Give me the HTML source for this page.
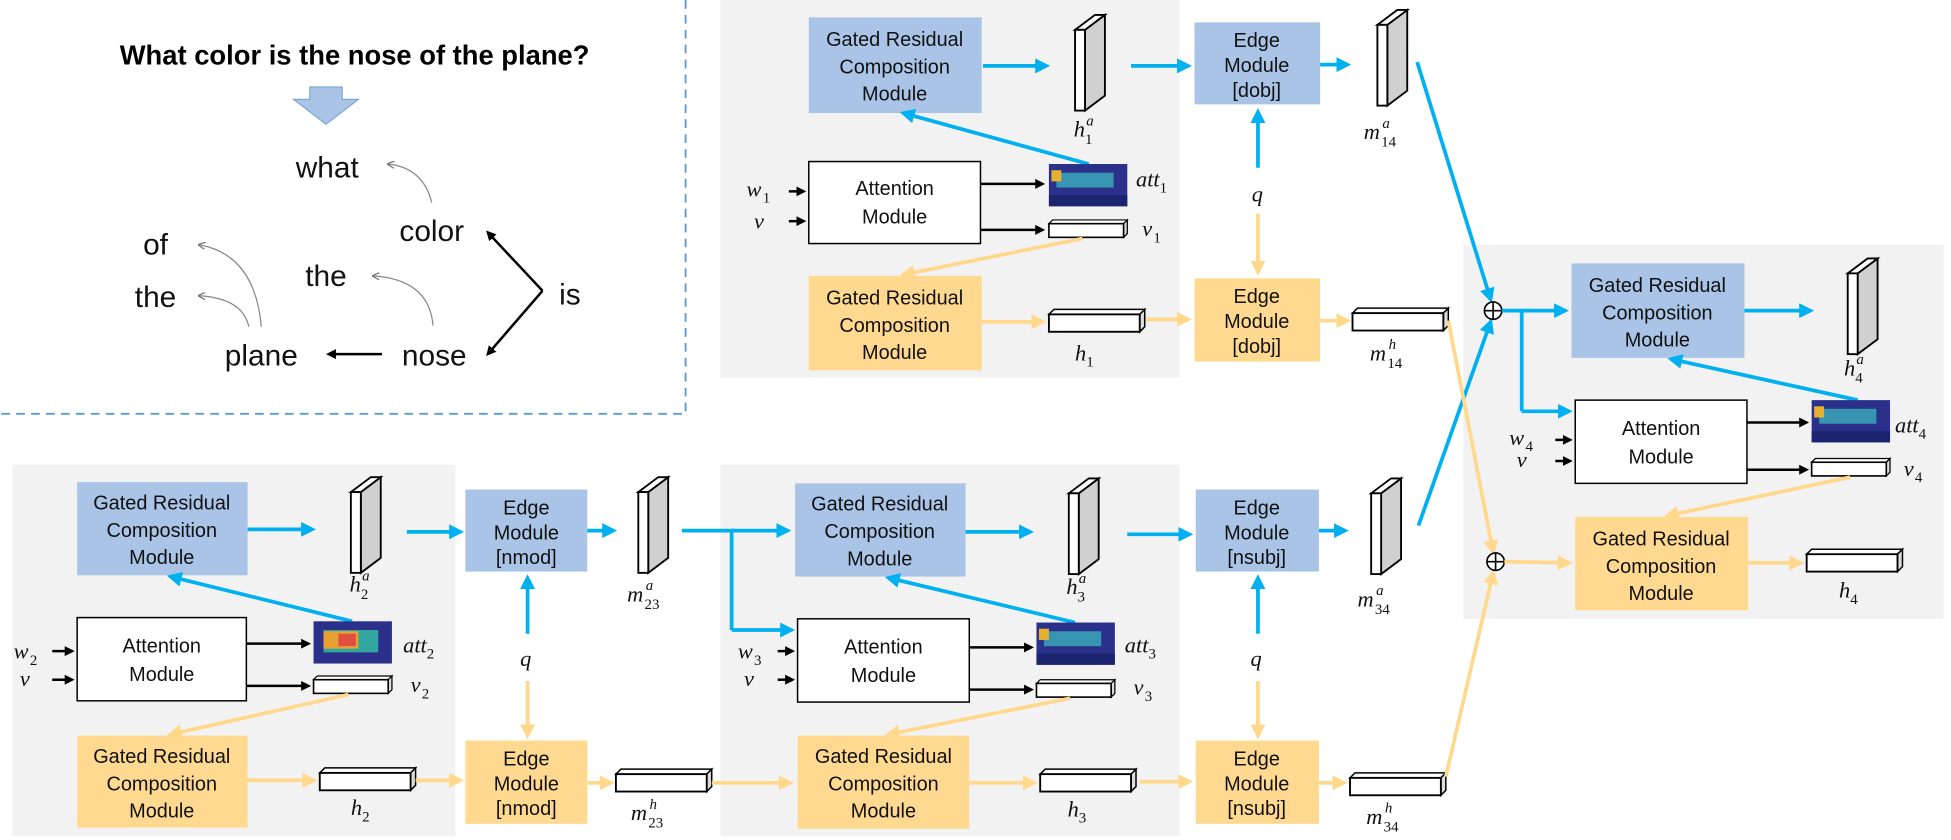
<!DOCTYPE html>
<html><head><meta charset="utf-8"><style>
html,body{margin:0;padding:0;background:#fff;width:1951px;height:840px;overflow:hidden}
svg{display:block}
.b{fill:#a9c4e6}.o{fill:#ffd990}
.t{font-family:"Liberation Sans",sans-serif;font-size:16px;fill:#111;text-anchor:middle}
.m{font-family:"Liberation Serif",serif;font-style:italic;font-size:18px;fill:#111}
.s{font-family:"Liberation Serif",serif;font-size:12px;fill:#111}
.si{font-family:"Liberation Serif",serif;font-style:italic;font-size:12px;fill:#111}
.w{font-family:"Liberation Sans",sans-serif;font-size:24px;fill:#111;text-anchor:middle}
.ba{stroke:#00b0f0;stroke-width:3;fill:none}
.oa{stroke:#ffd88c;stroke-width:3;fill:none}
.ka{stroke:#000;stroke-width:2;fill:none}
.wb{fill:#fff;stroke:#000;stroke-width:1.2}
</style></head><body>
<svg width="1951" height="840" viewBox="0 0 1568 676" preserveAspectRatio="none" xmlns="http://www.w3.org/2000/svg">
<defs>
<marker id="mb" markerWidth="4" markerHeight="4" refX="3" refY="2" orient="auto" markerUnits="strokeWidth"><path d="M0,0L4,2L0,4z" fill="#00b0f0"/></marker>
<marker id="mo" markerWidth="4" markerHeight="4" refX="3" refY="2" orient="auto" markerUnits="strokeWidth"><path d="M0,0L4,2L0,4z" fill="#ffd88c"/></marker>
<marker id="mk" markerWidth="4" markerHeight="4" refX="3" refY="2" orient="auto" markerUnits="strokeWidth"><path d="M0,0L4,2L0,4z" fill="#000"/></marker>
<marker id="mg" markerWidth="6" markerHeight="6" refX="5" refY="3" orient="auto" markerUnits="strokeWidth"><path d="M0,0L6,3L0,6" fill="none" stroke="#777"/></marker>
<g id="vs"><path d="M8,12L24,0L24,65L8,77z" fill="#d0d0d0" stroke="#000" stroke-width="1.5"/><path d="M0,12L16,0L24,0L8,12z" fill="#fff" stroke="#000" stroke-width="1.5"/><rect x="0" y="12" width="8" height="65" fill="#fff" stroke="#000" stroke-width="1.5"/></g>
<g id="hs"><path d="M0,4L4,0L77,0L73,4z" fill="#fff" stroke="#000" stroke-width="1.2"/><path d="M73,4L77,0L77,14L73,18z" fill="#ddd" stroke="#000" stroke-width="1.2"/><rect x="0" y="4" width="73" height="14" fill="#fff" stroke="#000" stroke-width="1.5"/></g>
<g id="hss"><path d="M0,3L3,0L63,0L60,3z" fill="#fff" stroke="#000" stroke-width="1"/><path d="M60,3L63,0L63,11L60,14z" fill="#ddd" stroke="#000"/><rect x="0" y="3" width="60" height="11" fill="#fff" stroke="#000" stroke-width="1.3"/></g>
<g id="att"><rect x="0" y="0" width="63" height="34" fill="#2b318a"/><rect x="6" y="7" width="46" height="12" fill="#3aa7b8" opacity=".85"/><rect x="2" y="5" width="8" height="9" fill="#e8b030"/><rect x="0" y="25" width="63" height="9" fill="#1c2470"/></g>
<g id="att2"><rect x="0" y="0" width="63" height="34" fill="#2b318a"/><rect x="8" y="7" width="44" height="18" fill="#34a6a0"/><rect x="8" y="8" width="28" height="14" fill="#e8a030"/><rect x="20" y="10" width="14" height="10" fill="#e05040"/></g>
</defs>

<path d="M551,0V333H0" fill="none" stroke="#5b9bd5" stroke-width="1.5" stroke-dasharray="7,5"/>
<text x="285" y="52" text-anchor="middle" font-family="Liberation Sans,sans-serif" font-weight="bold" font-size="22" fill="#000">What color is the nose of the plane?</text>
<path d="M249,70H275V80H288L262,100L236,80H249z" fill="#a9c4e6" stroke="#7fa7d9"/>
<text class="w" x="263" y="143">what</text>
<text class="w" x="347" y="194">color</text>
<text class="w" x="262" y="230">the</text>
<text class="w" x="125" y="205">of</text>
<text class="w" x="125" y="247">the</text>
<text class="w" x="210" y="294">plane</text>
<text class="w" x="349" y="294">nose</text>
<text class="w" x="458" y="245">is</text>
<line x1="436" y1="234" x2="392" y2="187" class="ka" stroke-width="3" marker-end="url(#mk)"/>
<line x1="436" y1="234" x2="392" y2="285" class="ka" stroke-width="3" marker-end="url(#mk)"/>
<line x1="307" y1="285" x2="264" y2="285" class="ka" stroke-width="3" marker-end="url(#mk)"/>
<path d="M347,163Q340,135 312,132" fill="none" stroke="#888" marker-end="url(#mg)"/>
<path d="M348,262Q345,225 300,222" fill="none" stroke="#888" marker-end="url(#mg)"/>
<path d="M210,263Q205,205 160,197" fill="none" stroke="#888" marker-end="url(#mg)"/>
<path d="M200,263Q195,240 160,238" fill="none" stroke="#888" marker-end="url(#mg)"/>

<rect x="579" y="0" width="369" height="304" fill="#f2f2f2"/>
<rect x="10" y="374" width="356" height="299" fill="#f2f2f2"/>
<rect x="579" y="374" width="369" height="299" fill="#f2f2f2"/>
<rect x="1176" y="197" width="386" height="301" fill="#f2f2f2"/>

<rect x="650" y="14" width="139" height="77" class="b"/>
<text class="t" x="719" y="37">Gated Residual</text><text class="t" x="719" y="59">Composition</text><text class="t" x="719" y="81">Module</text>
<line x1="790" y1="53" x2="841" y2="53" class="ba" marker-end="url(#mb)"/>
<use href="#vs" x="864" y="12"/>
<text class="m" x="863" y="110">h</text><text class="s" x="872" y="116">1</text><text class="si" x="873" y="101">a</text>
<line x1="875" y1="132" x2="726" y2="91" class="ba" marker-end="url(#mb)"/>
<rect x="650" y="130" width="138" height="66" class="wb"/>
<text class="t" x="719" y="157">Attention</text><text class="t" x="719" y="180">Module</text>
<line x1="634" y1="154" x2="646" y2="154" class="ka" marker-end="url(#mk)"/>
<line x1="634" y1="178" x2="646" y2="178" class="ka" marker-end="url(#mk)"/>
<text class="m" x="600" y="158">w</text><text class="s" x="613" y="163">1</text>
<text class="m" x="606" y="184">v</text>
<line x1="788" y1="148" x2="838" y2="148" class="ka" marker-end="url(#mk)"/>
<line x1="788" y1="185" x2="838" y2="185" class="ka" marker-end="url(#mk)"/>
<use href="#att" x="843" y="132"/>
<text class="m" x="913" y="150">att</text><text class="s" x="932" y="155">1</text>
<use href="#hss" x="843" y="177"/>
<text class="m" x="918" y="190">v</text><text class="s" x="927" y="195">1</text>
<line x1="870" y1="192" x2="726" y2="221" class="oa" marker-end="url(#mo)"/>
<rect x="650" y="222" width="139" height="76" class="o"/>
<text class="t" x="719" y="245">Gated Residual</text><text class="t" x="719" y="267">Composition</text><text class="t" x="719" y="289">Module</text>
<line x1="789" y1="259" x2="838" y2="259" class="oa" marker-end="url(#mo)"/>
<use href="#hs" x="843" y="249"/>
<text class="m" x="864" y="290">h</text><text class="s" x="873" y="295">1</text>
<line x1="921" y1="257" x2="955" y2="257" class="oa" marker-end="url(#mo)"/>
<line x1="909" y1="53" x2="955" y2="53" class="ba" marker-end="url(#mb)"/>
<rect x="960" y="18" width="101" height="66" class="b"/>
<text class="t" x="1010" y="38">Edge</text><text class="t" x="1010" y="58">Module</text><text class="t" x="1010" y="78">[dobj]</text>
<line x1="1061" y1="52" x2="1083" y2="52" class="ba" marker-end="url(#mb)"/>
<use href="#vs" x="1107" y="8"/>
<text class="m" x="1096" y="112">m</text><text class="s" x="1110" y="118">14</text><text class="si" x="1111" y="103">a</text>
<line x1="1011" y1="135" x2="1011" y2="90" class="ba" marker-end="url(#mb)"/>
<text class="m" x="1006" y="162">q</text>
<line x1="1011" y1="172" x2="1011" y2="219" class="oa" marker-end="url(#mo)"/>
<rect x="960" y="224" width="101" height="67" class="o"/>
<text class="t" x="1010" y="244">Edge</text><text class="t" x="1010" y="264">Module</text><text class="t" x="1010" y="284">[dobj]</text>
<line x1="1061" y1="258" x2="1083" y2="258" class="oa" marker-end="url(#mo)"/>
<use href="#hs" x="1087" y="248"/>
<text class="m" x="1101" y="290">m</text><text class="s" x="1115" y="296">14</text><text class="si" x="1116" y="281">h</text>

<rect x="62" y="388" width="137" height="75" class="b"/>
<text class="t" x="130" y="410">Gated Residual</text><text class="t" x="130" y="432">Composition</text><text class="t" x="130" y="454">Module</text>
<line x1="199" y1="426" x2="251" y2="426" class="ba" marker-end="url(#mb)"/>
<use href="#vs" x="282" y="384"/>
<text class="m" x="281" y="476">h</text><text class="s" x="290" y="482">2</text><text class="si" x="291" y="467">a</text>
<line x1="283" y1="500" x2="137" y2="464" class="ba" marker-end="url(#mb)"/>
<rect x="62" y="497" width="136" height="67" class="wb"/>
<text class="t" x="130" y="525">Attention</text><text class="t" x="130" y="548">Module</text>
<line x1="42" y1="524" x2="58" y2="524" class="ka" marker-end="url(#mk)"/>
<line x1="42" y1="547" x2="58" y2="547" class="ka" marker-end="url(#mk)"/>
<text class="m" x="11" y="530">w</text><text class="s" x="24" y="535">2</text>
<text class="m" x="16" y="552">v</text>
<line x1="198" y1="518" x2="248" y2="518" class="ka" marker-end="url(#mk)"/>
<line x1="198" y1="552" x2="248" y2="552" class="ka" marker-end="url(#mk)"/>
<use href="#att2" x="252" y="500"/>
<text class="m" x="324" y="525">att</text><text class="s" x="343" y="530">2</text>
<use href="#hss" x="252" y="544"/>
<text class="m" x="330" y="557">v</text><text class="s" x="339" y="562">2</text>
<line x1="280" y1="559" x2="137" y2="591" class="oa" marker-end="url(#mo)"/>
<rect x="62" y="592" width="137" height="74" class="o"/>
<text class="t" x="130" y="614">Gated Residual</text><text class="t" x="130" y="636">Composition</text><text class="t" x="130" y="658">Module</text>
<line x1="199" y1="628" x2="252" y2="628" class="oa" marker-end="url(#mo)"/>
<use href="#hs" x="257" y="618"/>
<text class="m" x="282" y="656">h</text><text class="s" x="291" y="661">2</text>
<line x1="334" y1="628" x2="370" y2="628" class="oa" marker-end="url(#mo)"/>
<line x1="327" y1="428" x2="370" y2="428" class="ba" marker-end="url(#mb)"/>
<rect x="374" y="394" width="98" height="66" class="b"/>
<text class="t" x="423" y="414">Edge</text><text class="t" x="423" y="434">Module</text><text class="t" x="423" y="454">[nmod]</text>
<line x1="472" y1="427" x2="493" y2="427" class="ba" marker-end="url(#mb)"/>
<use href="#vs" x="513" y="384"/>
<text class="m" x="504" y="484">m</text><text class="s" x="518" y="490">23</text><text class="si" x="519" y="475">a</text>
<line x1="424" y1="510" x2="424" y2="465" class="ba" marker-end="url(#mb)"/>
<text class="m" x="418" y="536">q</text>
<line x1="424" y1="548" x2="424" y2="592" class="oa" marker-end="url(#mo)"/>
<rect x="374" y="596" width="98" height="67" class="o"/>
<text class="t" x="423" y="616">Edge</text><text class="t" x="423" y="636">Module</text><text class="t" x="423" y="656">[nmod]</text>
<line x1="472" y1="630" x2="491" y2="630" class="oa" marker-end="url(#mo)"/>
<use href="#hs" x="495" y="619"/>
<text class="m" x="507" y="660">m</text><text class="s" x="521" y="666">23</text><text class="si" x="522" y="651">h</text>

<path d="M548,427H588V507" class="ba"/>
<line x1="588" y1="427" x2="633" y2="427" class="ba" marker-end="url(#mb)"/>
<line x1="588" y1="507" x2="636" y2="507" class="ba" marker-end="url(#mb)"/>
<line x1="572" y1="630" x2="635" y2="630" class="oa" marker-end="url(#mo)"/>
<rect x="639" y="389" width="137" height="75" class="b"/>
<text class="t" x="707" y="411">Gated Residual</text><text class="t" x="707" y="433">Composition</text><text class="t" x="707" y="455">Module</text>
<line x1="776" y1="428" x2="828" y2="428" class="ba" marker-end="url(#mb)"/>
<use href="#vs" x="859" y="385"/>
<text class="m" x="857" y="478">h</text><text class="s" x="866" y="484">3</text><text class="si" x="867" y="469">a</text>
<line x1="864" y1="501" x2="714" y2="465" class="ba" marker-end="url(#mb)"/>
<rect x="641" y="498" width="138" height="67" class="wb"/>
<text class="t" x="710" y="526">Attention</text><text class="t" x="710" y="549">Module</text>
<line x1="625" y1="524" x2="637" y2="524" class="ka" marker-end="url(#mk)"/>
<line x1="625" y1="547" x2="637" y2="547" class="ka" marker-end="url(#mk)"/>
<text class="m" x="593" y="530">w</text><text class="s" x="606" y="535">3</text>
<text class="m" x="598" y="552">v</text>
<line x1="779" y1="521" x2="829" y2="521" class="ka" marker-end="url(#mk)"/>
<line x1="779" y1="555" x2="829" y2="555" class="ka" marker-end="url(#mk)"/>
<use href="#att" x="833" y="501"/>
<text class="m" x="904" y="525">att</text><text class="s" x="923" y="530">3</text>
<use href="#hss" x="833" y="547"/>
<text class="m" x="911" y="559">v</text><text class="s" x="920" y="564">3</text>
<line x1="860" y1="562" x2="714" y2="591" class="oa" marker-end="url(#mo)"/>
<rect x="641" y="592" width="138" height="75" class="o"/>
<text class="t" x="710" y="614">Gated Residual</text><text class="t" x="710" y="636">Composition</text><text class="t" x="710" y="658">Module</text>
<line x1="779" y1="630" x2="831" y2="630" class="oa" marker-end="url(#mo)"/>
<use href="#hs" x="836" y="619"/>
<text class="m" x="858" y="657">h</text><text class="s" x="867" y="662">3</text>
<line x1="916" y1="629" x2="956" y2="629" class="oa" marker-end="url(#mo)"/>
<line x1="906" y1="430" x2="956" y2="430" class="ba" marker-end="url(#mb)"/>
<rect x="961" y="394" width="99" height="66" class="b"/>
<text class="t" x="1010" y="414">Edge</text><text class="t" x="1010" y="434">Module</text><text class="t" x="1010" y="454">[nsubj]</text>
<line x1="1060" y1="427" x2="1081" y2="427" class="ba" marker-end="url(#mb)"/>
<use href="#vs" x="1102" y="385"/>
<text class="m" x="1091" y="488">m</text><text class="s" x="1105" y="494">34</text><text class="si" x="1106" y="479">a</text>
<line x1="1011" y1="510" x2="1011" y2="465" class="ba" marker-end="url(#mb)"/>
<text class="m" x="1005" y="536">q</text>
<line x1="1011" y1="548" x2="1011" y2="592" class="oa" marker-end="url(#mo)"/>
<rect x="961" y="596" width="99" height="67" class="o"/>
<text class="t" x="1010" y="616">Edge</text><text class="t" x="1010" y="636">Module</text><text class="t" x="1010" y="656">[nsubj]</text>
<line x1="1060" y1="630" x2="1080" y2="630" class="oa" marker-end="url(#mo)"/>
<use href="#hs" x="1085" y="622"/>
<text class="m" x="1098" y="663">m</text><text class="s" x="1112" y="669">34</text><text class="si" x="1113" y="654">h</text>

<line x1="1139" y1="50" x2="1198" y2="241" class="ba" marker-end="url(#mb)"/>
<line x1="1140" y1="423" x2="1198" y2="259" class="ba" marker-end="url(#mb)"/>
<line x1="1164" y1="258" x2="1200" y2="444" class="oa" marker-end="url(#mo)"/>
<line x1="1162" y1="625" x2="1200" y2="461" class="oa" marker-end="url(#mo)"/>
<circle cx="1200" cy="250" r="7" fill="#fff" stroke="#000" stroke-width="1.3"/><path d="M1193,250H1207M1200,243V257" stroke="#000" stroke-width="1.3"/>
<circle cx="1202" cy="452" r="7" fill="#fff" stroke="#000" stroke-width="1.3"/><path d="M1195,452H1209M1202,445V459" stroke="#000" stroke-width="1.3"/>

<path d="M1207,250H1223V331" class="ba"/>
<line x1="1223" y1="250" x2="1258" y2="250" class="ba" marker-end="url(#mb)"/>
<line x1="1223" y1="331" x2="1261" y2="331" class="ba" marker-end="url(#mb)"/>
<line x1="1209" y1="452" x2="1261" y2="453" class="oa" marker-end="url(#mo)"/>
<rect x="1263" y="212" width="139" height="76" class="b"/>
<text class="t" x="1332" y="235">Gated Residual</text><text class="t" x="1332" y="257">Composition</text><text class="t" x="1332" y="279">Module</text>
<line x1="1402" y1="250" x2="1455" y2="250" class="ba" marker-end="url(#mb)"/>
<use href="#vs" x="1485" y="208"/>
<text class="m" x="1482" y="302">h</text><text class="s" x="1491" y="308">4</text><text class="si" x="1492" y="293">a</text>
<line x1="1493" y1="322" x2="1343" y2="289" class="ba" marker-end="url(#mb)"/>
<rect x="1266" y="322" width="138" height="67" class="wb"/>
<text class="t" x="1335" y="350">Attention</text><text class="t" x="1335" y="373">Module</text>
<line x1="1250" y1="354" x2="1262" y2="354" class="ka" marker-end="url(#mk)"/>
<line x1="1250" y1="371" x2="1262" y2="371" class="ka" marker-end="url(#mk)"/>
<text class="m" x="1213" y="358">w</text><text class="s" x="1226" y="363">4</text>
<text class="m" x="1219" y="376">v</text>
<line x1="1404" y1="340" x2="1452" y2="340" class="ka" marker-end="url(#mk)"/>
<line x1="1404" y1="378" x2="1452" y2="378" class="ka" marker-end="url(#mk)"/>
<use href="#att" x="1456" y="322"/>
<text class="m" x="1523" y="348">att</text><text class="s" x="1542" y="353">4</text>
<use href="#hss" x="1456" y="369"/>
<text class="m" x="1530" y="383">v</text><text class="s" x="1539" y="388">4</text>
<line x1="1487" y1="384" x2="1340" y2="415" class="oa" marker-end="url(#mo)"/>
<rect x="1266" y="416" width="139" height="75" class="o"/>
<text class="t" x="1335" y="439">Gated Residual</text><text class="t" x="1335" y="461">Composition</text><text class="t" x="1335" y="483">Module</text>
<line x1="1405" y1="453" x2="1447" y2="453" class="oa" marker-end="url(#mo)"/>
<use href="#hs" x="1452" y="442"/>
<text class="m" x="1478" y="481">h</text><text class="s" x="1487" y="486">4</text>
</svg>
</body></html>
